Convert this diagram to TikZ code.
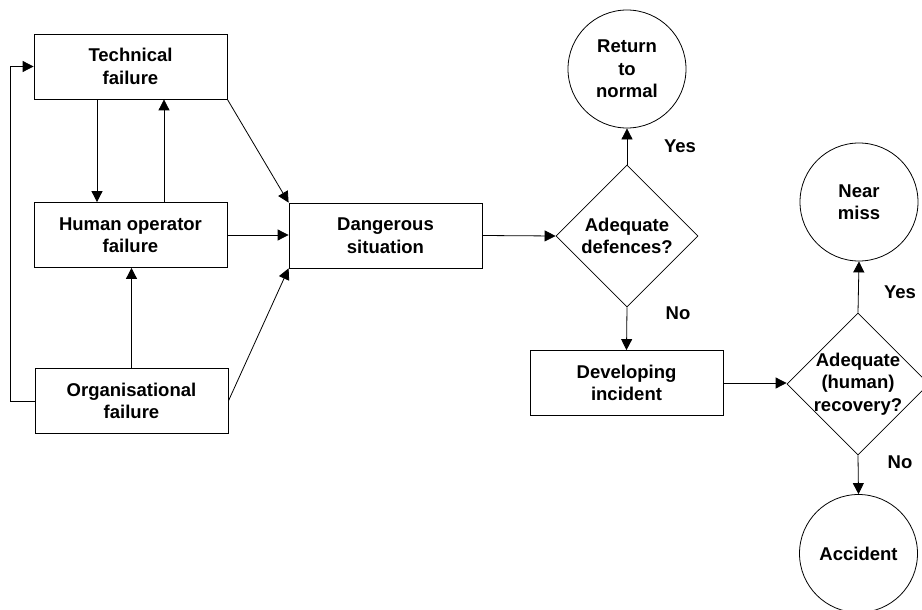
\documentclass[tikz,border=0pt]{standalone}
\usepackage{fontspec}
\setmainfont{Liberation Sans}
\usetikzlibrary{arrows.meta,shapes.geometric}
\begin{document}
\begin{tikzpicture}[x=1pt,y=-1pt,
  every node/.style={font=\fontsize{18.5}{22.5}\selectfont\bfseries, align=center, inner sep=0pt},
  box/.style={draw, line width=0.8pt, minimum width=193pt, minimum height=65pt},
  decision/.style={draw, diamond, line width=0.8pt, minimum width=142pt, minimum height=142pt},
  outcome/.style={draw, circle, line width=0.8pt, minimum size=118pt},
  arr/.style={line width=0.8pt, -{Triangle[length=11pt,width=11pt]}},
  line/.style={line width=0.8pt}]
  \clip (0,0) rectangle (922,610);
  \fill[white] (0,0) rectangle (922,610);

  % causes
  \node[box] (tech)  at (130.5, 66.5) {Technical\\failure};
  \node[box] (human) at (130.5, 235)  {Human operator\\failure};
  \node[box] (org)   at (131.5, 401)  {Organisational\\failure};

  % central event and first check
  \node[box] (danger) at (385.5, 235.5) {Dangerous\\situation};
  \node[decision, label={[align=center]center:Adequate\\defences?}] (d1) at (627, 236) {};
  \node[outcome] (ret) at (627, 69) {Return\\to\\normal};

  % development and recovery
  \node[box] (dev) at (626.5, 383) {Developing\\incident};
  \node[decision, label={[align=center]center:Adequate\\(human)\\recovery?}] (d2) at (858, 384) {};
  \node[outcome] (near) at (859, 202) {Near\\miss};
  \node[outcome] (acc)  at (858.5, 553.5) {Accident};

  % branch labels
  \node (yes1) at (680, 146) {Yes};
  \node (no1)  at (678, 313) {No};
  \node (yes2) at (900, 292) {Yes};
  \node (no2)  at (900, 462) {No};

  % links among the causes
  \draw[arr] ([xshift=-33.5pt]tech.south) -- ([xshift=-33.5pt]human.north);
  \draw[arr] ([xshift=33.5pt]human.north) -- ([xshift=33.5pt]tech.south);
  \draw[arr] (org.north) -- (org.north |- human.south);
  \draw[arr] (org.west) -- ++(-24,0) |- (tech.west);

  % causes lead to the dangerous situation
  \draw[arr] (tech.south east) -- (danger.north west);
  \draw[arr] (human.east) -- (human.east -| danger.west);
  \draw[arr] (org.east) -- (danger.south west);

  % decision flow
  \draw[arr] (danger.east) -- (d1.west);
  \draw[arr] (d1.north) -- (ret.south);
  \draw[arr] (d1.south) -- (dev.north);
  \draw[arr] (dev.east) -- (dev.east -| d2.west);
  \draw[arr] (d2.north) -- (near.south);
  \draw[arr] (d2.south) -- (acc.north);
\end{tikzpicture}
\end{document}
